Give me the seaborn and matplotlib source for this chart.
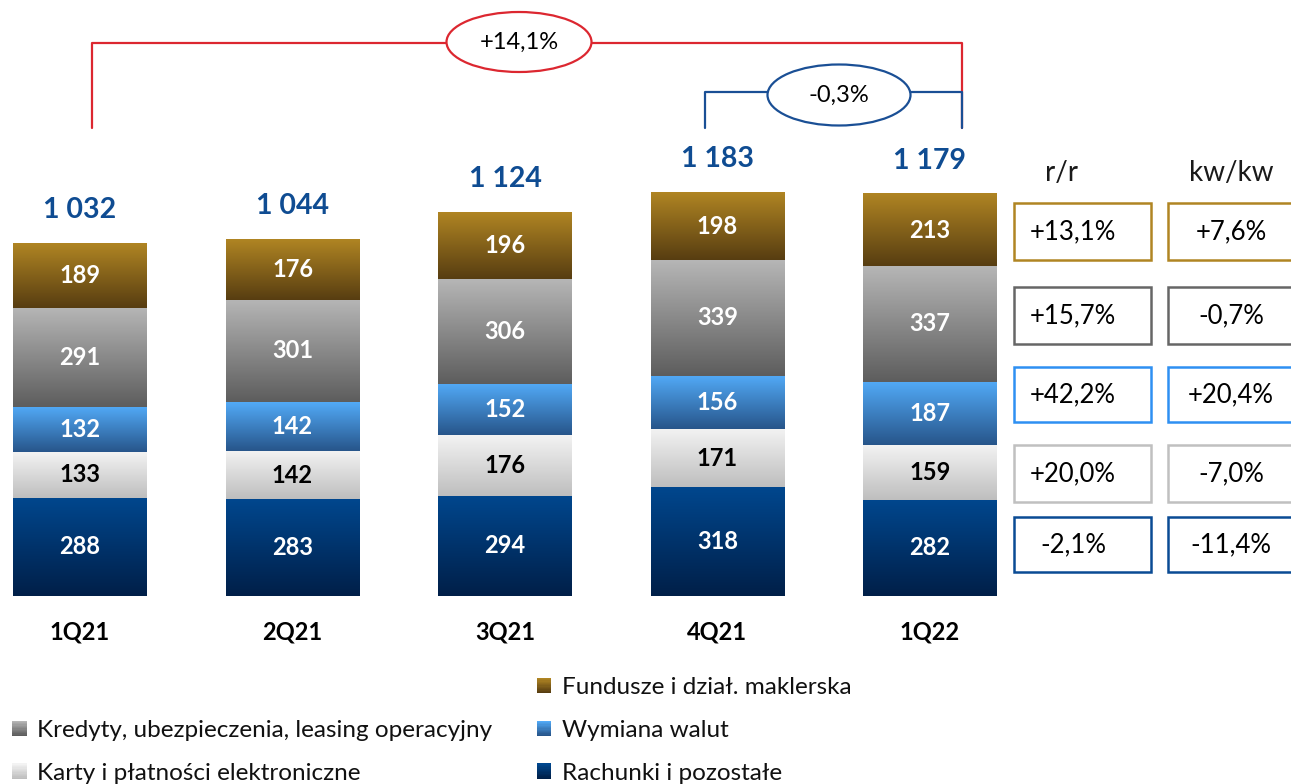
import numpy as np
import pandas as pd
import matplotlib
matplotlib.use("Agg")
import matplotlib.pyplot as plt
import seaborn as sns
from matplotlib.patches import Rectangle, Ellipse
from matplotlib.colors import LinearSegmentedColormap
from matplotlib.legend_handler import HandlerBase

# ---------------- data ----------------
quarters = ["1Q21", "2Q21", "3Q21", "4Q21", "1Q22"]
rachunki = [288, 283, 294, 318, 282]
karty = [133, 142, 176, 171, 159]
wymiana = [132, 142, 152, 156, 187]
kredyty = [291, 301, 306, 339, 337]
fundusze = [189, 176, 196, 198, 213]
total_labels = ["1 032", "1 044", "1 124", "1 183", "1 179"]
series_names = ["Rachunki i pozostałe", "Karty i płatności elektroniczne",
                "Wymiana walut", "Kredyty, ubezpieczenia, leasing operacyjny",
                "Fundusze i dział. maklerska"]
# table rows from top: fundusze, kredyty, wymiana, karty, rachunki
rr_header = "r/r"
kw_header = "kw/kw"
rr_values = ["+13,1%", "+15,7%", "+42,2%", "+20,0%", "-2,1%"]
kw_values = ["+7,6%", "-0,7%", "+20,4%", "-7,0%", "-11,4%"]
change_year = "+14,1%"
change_quarter = "-0,3%"

# ---------------- style ----------------
grad = {  # (top colour, bottom colour, label colour)
    "Rachunki i pozostałe": ("#00478E", "#001F48", "white"),
    "Karty i płatności elektroniczne": ("#F3F3F3", "#BEBEBE", "black"),
    "Wymiana walut": ("#52AAF7", "#27558A", "white"),
    "Kredyty, ubezpieczenia, leasing operacyjny": ("#B6B6B6", "#5D5D5D", "white"),
    "Fundusze i dział. maklerska": ("#B08523", "#573D11", "white"),
}
box_colors = ["#B08523", "#666666", "#2E90F2", "#C0C0C0", "#0A4B94"]
blue_txt = "#0F4C92"
red_line = "#DC2730"
blue_line = "#1A4F95"

sns.set_theme(style="white")
plt.rcParams["font.family"] = ["Lato", "DejaVu Sans"]

W, H = 1291, 784
fig = plt.figure(figsize=(W / 100, H / 100), dpi=100)
ax = fig.add_axes([0, 0, 1, 1])

PX_X0, PX_STEP = 80.0, 212.5
PX_Y0, PX_PER_UNIT = 596.0, 0.3415


def dx(px):
    return (px - PX_X0) / PX_STEP


def dy(py):
    return (PX_Y0 - py) / PX_PER_UNIT


layers = [rachunki, karty, wymiana, kredyty, fundusze]
bottom = np.zeros(len(quarters))
for name, vals in zip(series_names, layers):
    sns.barplot(x=quarters, y=vals, bottom=bottom.copy(), width=0.63,
                color=grad[name][0], ax=ax, errorbar=None, linewidth=0,
                zorder=2)
    bottom += np.array(vals)

# gradient fills + segment labels
patches = list(ax.patches)
for i, p in enumerate(patches):
    name = series_names[i // len(quarters)]
    top_c, bot_c, tc = grad[name]
    x0, w = p.get_x(), p.get_width()
    y0, h = p.get_y(), p.get_height()
    cmap = LinearSegmentedColormap.from_list("g", [top_c, bot_c])
    ax.imshow(np.linspace(0, 1, 256).reshape(-1, 1), cmap=cmap,
              extent=(x0, x0 + w, y0, y0 + h), origin="upper",
              aspect="auto", interpolation="bilinear", zorder=2)
    p.set_facecolor("none")
    ax.text(x0 + w / 2, y0 + h / 2, f"{int(round(h))}", ha="center",
            va="center", color=tc, fontsize=17, fontweight="bold", zorder=4)

# totals & category labels
for i, q in enumerate(quarters):
    ax.text(i, bottom[i] + 33 / PX_PER_UNIT, total_labels[i], ha="center",
            va="center", color=blue_txt, fontsize=20.5, fontweight="bold")
    ax.text(i, dy(632), q, ha="center", va="center", color="black",
            fontsize=17, fontweight="bold")

# change brackets
ax.plot([dx(92), dx(92), dx(962), dx(962)], [dy(128), dy(43), dy(43), dy(128)],
        color=red_line, lw=1.6, zorder=1)
ax.add_patch(Ellipse((dx(519), dy(42)), 145 / PX_STEP, 60 / PX_PER_UNIT,
                     facecolor="white", edgecolor=red_line, lw=1.6, zorder=3))
ax.text(dx(519), dy(42), change_year, ha="center", va="center",
        fontsize=17, color="black", zorder=4)

ax.plot([dx(705), dx(705), dx(962), dx(962)], [dy(128), dy(92), dy(92), dy(128)],
        color=blue_line, lw=1.6, zorder=1)
ax.add_patch(Ellipse((dx(839), dy(95)), 143 / PX_STEP, 61 / PX_PER_UNIT,
                     facecolor="white", edgecolor=blue_line, lw=1.6, zorder=3))
ax.text(dx(839), dy(95), change_quarter, ha="center", va="center",
        fontsize=17, color="black", zorder=4)

# table
ax.text(dx(1062), dy(173), rr_header, ha="center", va="center", fontsize=20,
        color="#1A1A1A")
ax.text(dx(1231), dy(173), kw_header, ha="center", va="center", fontsize=20,
        color="#1A1A1A")
rows = [(203, 260), (287, 344), (367, 422), (445, 502), (517, 572)]
for (t, b), col, rv, kv in zip(rows, box_colors, rr_values, kw_values):
    for (l, r), txt, tx in (((1014, 1151), rv, 1073), ((1168, 1294), kv, 1231)):
        ax.add_patch(Rectangle((dx(l), dy(b)), (r - l) / PX_STEP,
                               (b - t) / PX_PER_UNIT, facecolor="white",
                               edgecolor=col, lw=1.8, zorder=3))
        ax.text(dx(tx), dy((t + b) / 2), txt, ha="center", va="center",
                fontsize=18.5, color="black", zorder=4)


# legend with gradient squares
class GradHandler(HandlerBase):
    def __init__(self, top, bot, n=12):
        super().__init__()
        self.top, self.bot, self.n = top, bot, n

    def create_artists(self, legend, orig_handle, xdescent, ydescent,
                       width, height, fontsize, trans):
        cmap = LinearSegmentedColormap.from_list("g", [self.top, self.bot])
        arts = []
        hs = height / self.n
        for k in range(self.n):
            col = cmap(k / (self.n - 1))
            arts.append(Rectangle((-xdescent, -ydescent + height - (k + 1) * hs),
                                  width, hs * 1.05, facecolor=col,
                                  edgecolor="none", transform=trans))
        return arts


handles, labels, hmap = [], [], {}
blank = Rectangle((0, 0), 1, 1, visible=False)
order = ["__blank__", "Kredyty, ubezpieczenia, leasing operacyjny",
         "Karty i płatności elektroniczne", "Fundusze i dział. maklerska",
         "Wymiana walut", "Rachunki i pozostałe"]
for nm in order:
    if nm == "__blank__":
        handles.append(blank)
        labels.append(" ")
        continue
    h = Rectangle((0, 0), 1, 1)
    handles.append(h)
    labels.append(nm)
    hmap[h] = GradHandler(grad[nm][0], grad[nm][1])

leg = ax.legend(handles, labels, handler_map=hmap, ncol=2, frameon=False,
                loc="upper left", bbox_to_anchor=(12 / W, 1 - 677 / H),
                bbox_transform=fig.transFigure, fontsize=17.5,
                handlelength=0.6, handleheight=0.6, handletextpad=0.42,
                labelspacing=0.9, columnspacing=1.85, borderpad=0,
                borderaxespad=0)
for t in leg.get_texts():
    t.set_color("#111111")

ax.set_xlim(dx(0), dx(W))
ax.set_ylim(dy(H), dy(0))
ax.set_axis_off()

fig.savefig("out.png", dpi=100)
